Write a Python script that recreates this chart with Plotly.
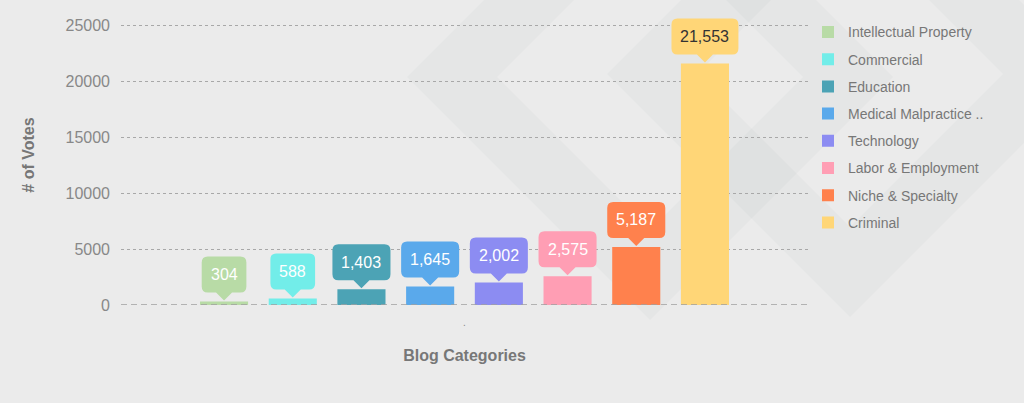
import plotly.graph_objects as go

categories = ["Intellectual Property", "Commercial", "Education", "Medical Malpractice ..",
              "Technology", "Labor & Employment", "Niche & Specialty", "Criminal"]
votes = [304, 588, 1403, 1645, 2002, 2575, 5187, 21553]
colors = ["#b8dba6", "#72ede9", "#4ca3b5", "#5aa9eb", "#8c8cf2", "#ff9eb4", "#ff814d", "#ffd677"]
label_colors = ["white"] * 7 + ["#333333"]
x_category = ["."]
y_ticks = [0, 5000, 10000, 15000, 20000, 25000]

W, H = 1024, 403
ML, MR, MT, MB = 121, 216, 5, 98
PW, PH = W - ML - MR, H - MT - MB

fig = go.Figure()
n = len(categories)
bargap = 0.2
slot = (1 - bargap) / n

for i, (name, v, c) in enumerate(zip(categories, votes, colors)):
    fig.add_trace(go.Bar(
        x=x_category, y=[v], name=name, marker=dict(color=c, line=dict(width=0)),
        legendgroup=name, hoverinfo="skip",
    ))

def text_width(s, size=16):
    w = 0
    for ch in s:
        w += 0.278 * size if ch == "," else 0.556 * size
    return w

shapes = []
annotations = []

# faint background watermark: two thick diamond rings (pixel geometry -> paper coords)
def px2paper(px, py):
    return (px - ML) / PW, (MT + PH - py) / PH

def diamond(cx, cy, r):
    return [(cx - r, cy), (cx, cy - r), (cx + r, cy), (cx, cy + r)]

for cx, cy in [(650, 77), (850, 74)]:
    outer = diamond(cx, cy, 243)
    inner = diamond(cx, cy, 153)[::-1]
    parts = []
    for poly in (outer, inner):
        pts = [px2paper(*p) for p in poly]
        parts.append("M " + " L ".join(f"{x:.4f},{y:.4f}" for x, y in pts) + " Z")
    shapes.append(dict(type="path", xref="paper", yref="paper", path=" ".join(parts),
                       fillcolor="rgba(50,55,80,0.028)", line=dict(width=0), layer="below"))

for i, (v, c, lc) in enumerate(zip(votes, colors, label_colors)):
    xo = (i - (n - 1) / 2) * slot
    label = f"{v:,}"
    w = text_width(label) + 18
    hw = w / 2
    r = 6
    pb = 9   # pointer height
    h = 36
    top = pb + h
    path = (f"M 0,1 L 8,{pb} L {hw - r},{pb} Q {hw},{pb} {hw},{pb + r} "
            f"L {hw},{top - r} Q {hw},{top} {hw - r},{top} "
            f"L {-hw + r},{top} Q {-hw},{top} {-hw},{top - r} "
            f"L {-hw},{pb + r} Q {-hw},{pb} {-hw + r},{pb} L -8,{pb} Z")
    shapes.append(dict(type="path", xref="x", yref="y", xsizemode="pixel", ysizemode="pixel",
                       xanchor=xo, yanchor=v, path=path, fillcolor=c,
                       line=dict(width=0), layer="above"))
    annotations.append(dict(x=xo, y=v, xref="x", yref="y", text=label, showarrow=False,
                            yshift=pb + h / 2, yanchor="middle", xanchor="center",
                            font=dict(size=16, color=lc, family="Liberation Sans, Arial")))

# dashed baseline
shapes.append(dict(type="line", xref="paper", yref="y", x0=0, x1=1, y0=0, y1=0,
                   line=dict(color="#a0a0a0", width=1.3, dash="6px,4px"), layer="above"))

px_per_unit = 280 / 25000
yrange_top = PH / px_per_unit

fig.update_layout(
    width=W, height=H,
    margin=dict(l=ML, r=MR, t=MT, b=MB),
    paper_bgcolor="#ebebeb", plot_bgcolor="rgba(0,0,0,0)",
    barmode="group", bargap=bargap, bargroupgap=0.3,
    font=dict(family="Liberation Sans, Arial", color="#888888"),
    shapes=shapes, annotations=annotations,
    legend=dict(x=1.0, y=0.962, xanchor="left", yanchor="top",
                font=dict(size=14, color="#777777"), tracegroupgap=6,
                bgcolor="rgba(0,0,0,0)"),
    xaxis=dict(type="category", showgrid=False, zeroline=False, showline=False,
               tickfont=dict(size=10, color="#888888"), ticks="", ticklabelstandoff=10,
               title=dict(text="<b>Blog Categories</b>", font=dict(size=16, color="#777777"),
                          standoff=22)),
    yaxis=dict(range=[0, yrange_top], tickvals=y_ticks, ticktext=[str(t) for t in y_ticks],
               showgrid=True, gridcolor="#a8a8a8", griddash="3px,3px", gridwidth=1,
               zeroline=False, showline=False, ticks="", ticklabelstandoff=10,
               tickfont=dict(size=16, color="#888888"),
               title=dict(text="<b># of Votes</b>", font=dict(size=16, color="#777777"),
                          standoff=26)),
)

fig.write_html("out.html", config={"displayModeBar": False},
               post_script="document.body.style.margin='0';document.body.style.background='#ebebeb';")
